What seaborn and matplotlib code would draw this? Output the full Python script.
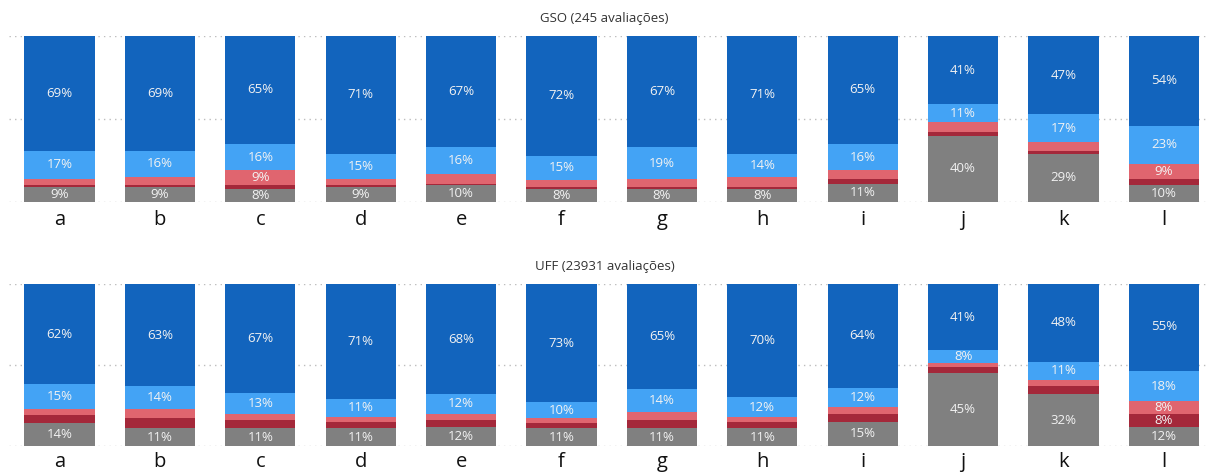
import numpy as np
import pandas as pd
import matplotlib
matplotlib.use("Agg")
import matplotlib.pyplot as plt
import seaborn as sns

sns.set_theme(style="white")
plt.rcParams["font.family"] = ["Open Sans", "DejaVu Sans"]

categories = ["a", "b", "c", "d", "e", "f", "g", "h", "i", "j", "k", "l"]

# Segment shares (%) from bottom to top of each bar
gso_gray = [9, 9, 8, 9, 10, 8, 8, 8, 11, 40, 29, 10]
gso_darkred = [1, 1, 2, 1, 1, 1, 1, 1, 3, 2, 2, 4]
gso_pink = [4, 5, 9, 4, 6, 4, 5, 6, 5, 6, 5, 9]
gso_lightblue = [17, 16, 16, 15, 16, 15, 19, 14, 16, 11, 17, 23]
gso_blue = [69, 69, 65, 71, 67, 72, 67, 71, 65, 41, 47, 54]

uff_gray = [14, 11, 11, 11, 12, 11, 11, 11, 15, 45, 32, 12]
uff_darkred = [5, 6, 5, 4, 4, 3, 5, 4, 5, 4, 5, 8]
uff_pink = [4, 6, 4, 3, 4, 3, 5, 3, 4, 2, 4, 8]
uff_lightblue = [15, 14, 13, 11, 12, 10, 14, 12, 12, 8, 11, 18]
uff_blue = [62, 63, 67, 71, 68, 73, 65, 70, 64, 41, 48, 55]

titles = ["GSO (245 avaliações)", "UFF (23931 avaliações)"]

colors = ["#808080", "#a4283a", "#e0656f", "#43a3f5", "#1264bd"]
label_min = 8

fig = plt.figure(figsize=(12.09, 4.74), dpi=100)
ax_top = fig.add_axes([0.0077, 0.5738, 0.9965, 0.3502])
ax_bot = fig.add_axes([0.0077, 0.0591, 0.9965, 0.3418])

panels = [
    (ax_top, [gso_gray, gso_darkred, gso_pink, gso_lightblue, gso_blue], titles[0], 0.962, 6),
    (ax_bot, [uff_gray, uff_darkred, uff_pink, uff_lightblue, uff_blue], titles[1], 0.437, 4),
]

for ax, segs, title, ty, pad in panels:
    segs = np.array(segs, dtype=float)
    cum = np.cumsum(segs, axis=0)
    # draw cumulative totals from the tallest down so each segment shows
    for k in range(len(segs) - 1, -1, -1):
        df = pd.DataFrame({"cat": categories, "val": cum[k]})
        sns.barplot(data=df, x="cat", y="val", color=colors[k], saturation=1,
                    width=0.7, ax=ax, zorder=2, linewidth=0, edgecolor="none")
    for k in range(len(segs)):
        for i, v in enumerate(segs[k]):
            if v >= label_min:
                mid = cum[k][i] - v / 2
                ax.text(i, mid, f"{int(v)}%", ha="center", va="center",
                        color="#f2f2f2", fontsize=9.5, zorder=3)
    ax.set_ylim(0, 100)
    ax.set_xlim(-0.5, 11.5)
    for g in (0, 50, 100):
        ax.axhline(g, color="#bdbdbd", linestyle=(0, (1, 3)), linewidth=1, zorder=1)
    for s in ax.spines.values():
        s.set_visible(False)
    ax.set_yticks([])
    ax.set_xlabel("")
    ax.set_ylabel("")
    ax.tick_params(axis="x", length=0, pad=pad, labelsize=14.5, labelcolor="#111111")
    fig.text(0.5, ty, title, ha="center", va="center", fontsize=9.5, color="#333333")

fig.savefig("out.png", dpi=100)
